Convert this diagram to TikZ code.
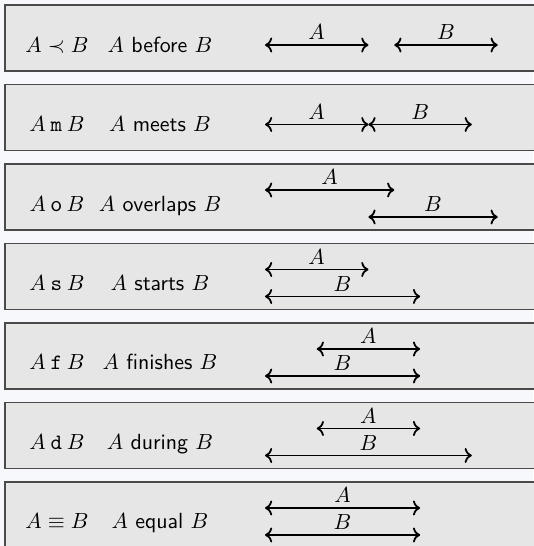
\documentclass[tikz,border=0pt]{standalone}
\usepackage{amsmath,amssymb}
\usepackage{xcolor}
\usetikzlibrary{arrows.meta,positioning}
\definecolor{pageback}{HTML}{F6F8FB}
\definecolor{rowfill}{HTML}{E6E6E6}
\definecolor{rowedge}{HTML}{4A4A4A}

\begin{document}
\begin{tikzpicture}[
    every node/.style={font=\fontsize{10.95}{13}\selectfont},
    rowbox/.style={draw=rowedge, fill=rowfill, line width=0.6pt},
    relsym/.style={anchor=base, inner sep=0pt},
    relname/.style={anchor=base, inner sep=0pt, font=\fontsize{10.95}{13}\selectfont\sffamily},
    ival/.style={<->, line width=0.9pt},
    lbl/.style={above, inner sep=2.2pt}
]
    % page and margins
    \fill[pageback] (0,0) rectangle (9.367,-9.595);
    \useasboundingbox (0,0) rectangle (9.367,-9.595);

    % rows
    \draw[rowbox] (0.088,-0.088) rectangle (10,-1.248);
    \draw[rowbox] (0.088,-1.485) rectangle (10,-2.645);
    \draw[rowbox] (0.088,-2.882) rectangle (10,-4.042);
    \draw[rowbox] (0.088,-4.279) rectangle (10,-5.439);
    \draw[rowbox] (0.088,-5.676) rectangle (10,-6.836);
    \draw[rowbox] (0.088,-7.073) rectangle (10,-8.233);
    \draw[rowbox] (0.088,-8.470) rectangle (10,-9.630);

    % before
    \node[relsym] (sym1) at (1.002,-0.914) {$A \prec B$};
    \node[relname] (name1) at (2.812,-0.914) {$A$ before $B$};
    \draw[ival] (4.657,-0.791) -- node[lbl] (a1) {$A$} (6.474,-0.791);
    \draw[ival] (6.929,-0.791) -- node[lbl] (b1) {$B$} (8.746,-0.791);

    % meets
    \node[relsym] (sym2) at (1.002,-2.311) {$A \mathbin{\mathtt{m}} B$};
    \node[relname] (name2) at (2.812,-2.311) {$A$ meets $B$};
    \draw[ival] (4.657,-2.188) -- node[lbl] (a2) {$A$} (6.474,-2.188);
    \draw[ival] (6.474,-2.188) -- node[lbl] (b2) {$B$} (8.291,-2.188);

    % overlaps
    \node[relsym] (sym3) at (1.002,-3.708) {$A \mathbin{\mathsf{o}} B$};
    \node[relname] (name3) at (2.812,-3.708) {$A$ overlaps $B$};
    \draw[ival] (4.657,-3.339) -- node[lbl] (a3) {$A$} (6.929,-3.339);
    \draw[ival] (6.474,-3.813) -- node[lbl] (b3) {$B$} (8.746,-3.813);

    % starts
    \node[relsym] (sym4) at (1.002,-5.105) {$A \mathbin{\mathtt{s}} B$};
    \node[relname] (name4) at (2.812,-5.105) {$A$ starts $B$};
    \draw[ival] (4.657,-4.736) -- node[lbl] (a4) {$A$} (6.474,-4.736);
    \draw[ival] (4.657,-5.210) -- node[lbl] (b4) {$B$} (7.383,-5.210);

    % finishes
    \node[relsym] (sym5) at (1.002,-6.502) {$A \mathbin{\mathtt{f}} B$};
    \node[relname] (name5) at (2.812,-6.502) {$A$ finishes $B$};
    \draw[ival] (5.566,-6.133) -- node[lbl] (a5) {$A$} (7.383,-6.133);
    \draw[ival] (4.657,-6.607) -- node[lbl] (b5) {$B$} (7.383,-6.607);

    % during
    \node[relsym] (sym6) at (1.002,-7.899) {$A \mathbin{\mathtt{d}} B$};
    \node[relname] (name6) at (2.812,-7.899) {$A$ during $B$};
    \draw[ival] (5.566,-7.530) -- node[lbl] (a6) {$A$} (7.383,-7.530);
    \draw[ival] (4.657,-8.004) -- node[lbl] (b6) {$B$} (8.291,-8.004);

    % equal
    \node[relsym] (sym7) at (1.002,-9.296) {$A \equiv B$};
    \node[relname] (name7) at (2.812,-9.296) {$A$ equal $B$};
    \draw[ival] (4.657,-8.927) -- node[lbl] (a7) {$A$} (7.383,-8.927);
    \draw[ival] (4.657,-9.401) -- node[lbl] (b7) {$B$} (7.383,-9.401);
\end{tikzpicture}
\end{document}
